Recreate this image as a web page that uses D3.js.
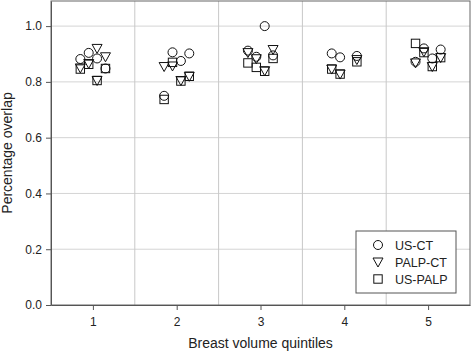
<!DOCTYPE html>
<html>
<head>
<meta charset="utf-8">
<script src="https://cdn.jsdelivr.net/npm/d3@7"></script>
<style>
body{margin:0;background:#fff;}
text{font-family:"Liberation Sans",Arial,sans-serif;fill:#222;}
</style>
</head>
<body>
<div id="chart"></div>
<script>
// data, one row per quintile, one entry per subject slot
var quintiles=[1,2,3,4,5];
var jitter=[-0.15,-0.05,0.05,0.15,0.05];
var usCt=[[0.882,0.904,0.884,0.848],[0.75,0.906,0.875,0.902],[0.912,0.89,1.0,0.895],[0.902,0.888,null,0.893],[0.872,0.92,0.884,0.916]];
var palpCt=[[0.85,0.866,0.92,0.89,0.805],[0.855,0.857,0.805,0.82],[0.905,0.883,0.84,0.916],[0.846,0.828,null,0.88],[0.868,0.908,0.855,0.887]];
var usPalp=[[0.846,0.863,0.805,0.848],[0.737,0.87,0.803,0.82],[0.868,0.852,0.838,0.884],[0.846,0.828,null,0.872],[0.938,0.905,0.855,0.887]];
var yTicks=[0,0.2,0.4,0.6,0.8,1.0];
var seriesNames=["US-CT","PALP-CT","US-PALP"];

var width=472,height=352;
var margin={top:1,right:2,bottom:47,left:51};
var w=width-margin.left-margin.right,h=height-margin.top-margin.bottom;

var svg=d3.select("#chart").append("svg")
  .attr("width",width)
  .attr("height",height);
var g=svg.append("g").attr("transform","translate("+margin.left+","+margin.top+")");

var x=d3.scaleLinear().domain([0.5,5.5]).range([0,w]);
var y=d3.scaleLinear().domain([0,1.09]).range([h,0]);

// grid
g.selectAll(".hg").data(yTicks.slice(1)).enter().append("line")
  .attr("x1",0).attr("x2",w)
  .attr("y1",function(d){return y(d);}).attr("y2",function(d){return y(d);})
  .style("stroke","#d4d4d4").style("stroke-width",1);
g.selectAll(".vg").data([1.5,2.5,3.5,4.5]).enter().append("line")
  .attr("x1",function(d){return x(d);}).attr("x2",function(d){return x(d);})
  .attr("y1",0).attr("y2",h)
  .style("stroke","#c8c8c8").style("stroke-width",1);

// frame
g.append("rect").attr("x",0).attr("y",0).attr("width",w).attr("height",h)
  .style("fill","none").style("stroke","#666").style("stroke-width",1);

// axes
var xAxis=g.append("g").attr("transform","translate(0,"+h+")")
  .call(d3.axisBottom(x).tickValues(quintiles).tickFormat(d3.format("d")).tickSize(5).tickSizeOuter(0));
var yAxis=g.append("g")
  .call(d3.axisLeft(y).tickValues(yTicks).tickFormat(d3.format(".1f")).tickSize(5).tickSizeOuter(0));
[xAxis,yAxis].forEach(function(a){
  a.select(".domain").style("stroke","#555");
  a.selectAll(".tick line").style("stroke","#555");
  a.selectAll(".tick text").style("font-size","12px").style("fill","#222")
   .style("font-family","Liberation Sans, Arial, sans-serif");
});
xAxis.selectAll(".tick text").attr("dy","0").attr("y",21);
yAxis.selectAll(".tick text").attr("x",-9);

svg.append("text")
  .attr("x",margin.left+w/2).attr("y",348)
  .attr("text-anchor","middle").style("font-size","14px")
  .text("Breast volume quintiles");
svg.append("text")
  .attr("transform","translate(12,"+(margin.top+h/2)+") rotate(-90)")
  .attr("text-anchor","middle").style("font-size","14px")
  .text("Percentage overlap");

// markers
var triPath="M-5,-4L5,-4L0,5Z";
var marks=g.append("g");
function drawSeries(vals,kind){
  var pts=[];
  for(var q=0;q<vals.length;q++){
    for(var s=0;s<vals[q].length;s++){
      if(vals[q][s]!=null) pts.push({x:quintiles[q]+jitter[s],v:vals[q][s]});
    }
  }
  var sel=marks.selectAll(".m"+kind).data(pts).enter();
  var m;
  if(kind=="c"){
    m=sel.append("circle").attr("cx",function(d){return x(d.x);}).attr("cy",function(d){return y(d.v);})
      .attr("r",4.5);
  }else if(kind=="t"){
    m=sel.append("path").attr("d",triPath)
      .attr("transform",function(d){return "translate("+x(d.x)+","+y(d.v)+")";});
  }else{
    m=sel.append("rect").attr("x",function(d){return x(d.x)-4.2;}).attr("y",function(d){return y(d.v)-4.2;})
      .attr("width",8.4).attr("height",8.4);
  }
  m.attr("class","m"+kind).style("fill","none").style("stroke","#111").style("stroke-width",1);
}
drawSeries(usPalp,"s");
drawSeries(palpCt,"t");
drawSeries(usCt,"c");

// legend
var lg=svg.append("g").attr("transform","translate(356,231)");
lg.append("rect").attr("width",100).attr("height",62)
  .style("fill","#fff").style("stroke","#555").style("stroke-width",1);
var rowY=[14,31,48];
lg.append("circle").attr("cx",22).attr("cy",rowY[0]).attr("r",4.5)
  .style("fill","none").style("stroke","#111");
lg.append("path").attr("d",triPath).attr("transform","translate(22,"+rowY[1]+")")
  .style("fill","none").style("stroke","#111");
lg.append("rect").attr("x",22-4.2).attr("y",rowY[2]-4.2).attr("width",8.4).attr("height",8.4)
  .style("fill","none").style("stroke","#111");
lg.selectAll(".lt").data(seriesNames).enter().append("text")
  .attr("x",39).attr("y",function(d,i){return rowY[i]+4.5;})
  .style("font-size","12.5px")
  .text(function(d){return d;});
</script>
</body>
</html>
